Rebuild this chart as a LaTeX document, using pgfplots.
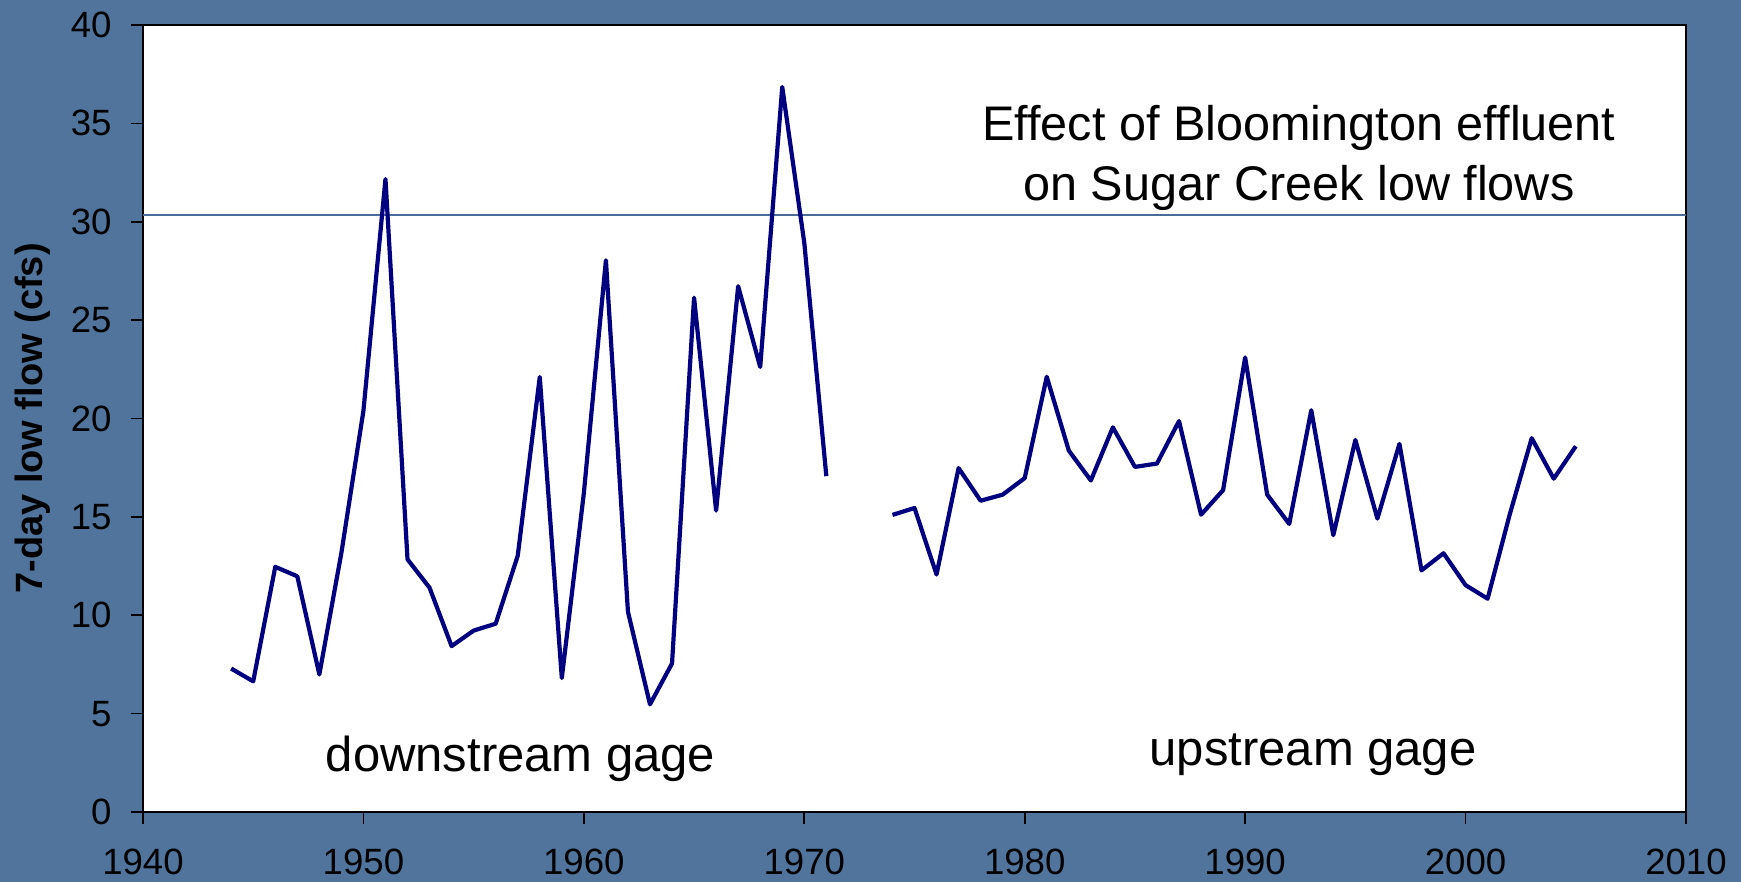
\documentclass[border=0pt]{standalone}
\usepackage{fontspec}
\setmainfont{Liberation Sans}
\usepackage{pgfplots}
\pgfplotsset{compat=1.18}

\definecolor{slatebg}{RGB}{80,116,156}
\definecolor{flowline}{RGB}{0,0,128}
\definecolor{refline}{RGB}{74,108,150}

% downstream gage, 1944-1971
\pgfplotstableread{
year flow
1944 7.29
1945 6.64
1946 12.46
1947 11.98
1948 6.99
1949 13.17
1950 20.39
1951 32.17
1952 12.84
1953 11.40
1954 8.43
1955 9.22
1956 9.57
1957 13.02
1958 22.11
1959 6.81
1960 16.21
1961 28.04
1962 10.18
1963 5.47
1964 7.55
1965 26.14
1966 15.32
1967 26.72
1968 22.62
1969 36.85
1970 28.93
1971 17.07
}\downstream

% upstream gage, 1974-2005
\pgfplotstableread{
year flow
1974 15.10
1975 15.45
1976 12.07
1977 17.48
1978 15.82
1979 16.13
1980 16.97
1981 22.12
1982 18.37
1983 16.85
1984 19.55
1985 17.54
1986 17.71
1987 19.87
1988 15.11
1989 16.36
1990 23.10
1991 16.13
1992 14.64
1993 20.42
1994 14.07
1995 18.91
1996 14.91
1997 18.71
1998 12.28
1999 13.15
2000 11.53
2001 10.84
2002 15.11
2003 19.00
2004 16.94
2005 18.59
}\upstream

\begin{document}
\begin{tikzpicture}
  % slide background
  \fill[slatebg] (0,0) rectangle (870.5pt,441pt);
  \path[use as bounding box] (0,0) rectangle (870.5pt,441pt);

  \begin{axis}[
    at={(71.5pt,35pt)}, anchor=south west,
    scale only axis,
    width=771.5pt, height=393.5pt,
    xmin=1940, xmax=2010, ymin=0, ymax=40,
    xtick={1940,1950,...,2010},
    ytick={0,5,...,40},
    axis background/.style={fill=white},
    axis line style={black, line width=1pt},
    tick align=outside,
    xtick pos=bottom, ytick pos=left,
    major tick length=6pt,
    tick style={black, line width=0.8pt},
    /pgf/number format/1000 sep={},
    /pgf/number format/assume math mode=true,
    tick label style={font=\fontsize{18.3}{21}\selectfont, text=black},
    xticklabel style={anchor=north, inner sep=0pt, yshift=-12.5pt},
    yticklabel style={anchor=east, inner sep=0pt, xshift=-9.5pt},
    clip=false,
  ]
    \addplot[refline, line width=0.7pt] coordinates {(1940,30.34) (2010,30.34)};
    \addplot[flowline, line width=2.1pt, line join=round] table[x=year, y=flow] {\downstream};
    \addplot[flowline, line width=2.1pt, line join=round] table[x=year, y=flow] {\upstream};

    \node[anchor=base, font=\fontsize{24.3}{28}\selectfont] at (axis cs:1992.44,34.15) {Effect of Bloomington effluent};
    \node[anchor=base, font=\fontsize{24.3}{28}\selectfont] at (axis cs:1992.44,31.07) {on Sugar Creek low flows};
    \node[anchor=base, font=\fontsize{24.5}{28}\selectfont] at (axis cs:1957.13,2.05) {downstream gage};
    \node[anchor=base, font=\fontsize{24.5}{28}\selectfont] at (axis cs:1993.08,2.34) {upstream gage};
  \end{axis}

  \node[rotate=90, font=\bfseries\fontsize{19}{22}\selectfont] at (16.5pt,231.75pt) {7-day low flow (cfs)};
\end{tikzpicture}
\end{document}
